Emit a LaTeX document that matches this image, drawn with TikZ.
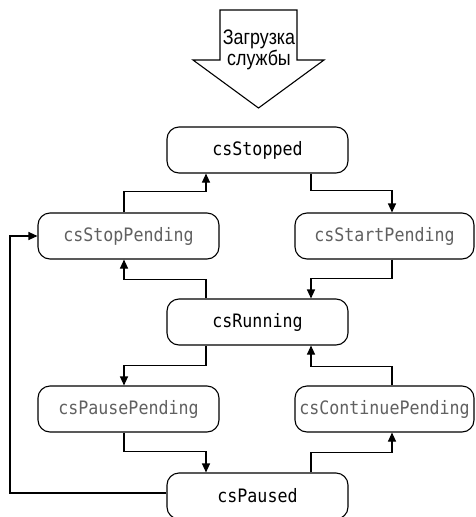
\documentclass[tikz,border=0pt]{standalone}
\usepackage{fontspec}
\setmainfont{Liberation Sans}
\newfontfamily\rufont[FakeStretch=0.85]{Liberation Sans}
\newfontfamily\statefont[FakeStretch=0.9]{DejaVu Sans Mono}
\usetikzlibrary{arrows.meta,calc}
\begin{document}
\begin{tikzpicture}[x=1pt,y=-1pt,
  stbox/.style={draw, line width=1.1pt, rounded corners=12pt, minimum width=181pt, minimum height=46pt, inner sep=0pt,
    font=\statefont\fontsize{18.5}{20}\selectfont},
  mainst/.style={stbox, text=black},
  pendst/.style={stbox, text=black!62},
  arr/.style={line width=1.1pt, -{Triangle[length=9pt,width=8pt]}},
  conn/.style={line width=1.1pt}]
\clip (0,0) rectangle (475,517);
\fill[white] (0,0) rectangle (475,517);
% big entry arrow
\draw[line width=1.1pt, line join=miter] (220,10) -- (297,10) -- (297,60) -- (324,60) -- (258.5,108) -- (193,60) -- (220,60) -- cycle;
\node[font=\rufont\fontsize{21}{21}\selectfont, align=center, inner sep=0pt] (load) at (259,50) {Загрузка\\службы};
% states
\node[mainst] (ss) at (257.5,150) {csStopped};
\node[pendst] (sp) at (128.5,236) {csStopPending};
\node[pendst, minimum width=179pt] (st) at (384.5,236) {csStartPending};
\node[mainst] (rn) at (257.5,322) {csRunning};
\node[pendst] (pp) at (128.5,409) {csPausePending};
\node[pendst, minimum width=179pt] (cp) at (384.5,409) {csContinuePending};
\node[mainst] (pd) at (257.5,496) {csPaused};
% column coordinates
\coordinate (L) at (124,0);
\coordinate (ML) at (206,0);
\coordinate (MR) at (311,0);
\coordinate (R) at (392,0);
\coordinate (lft) at (10,0);
% connectors
\draw[arr] (sp.north -| L) |- ($(ss.south -| ML)+(0,18)$) -- (ss.south -| ML);
\draw[arr] (ss.south -| MR) |- ($(st.north -| R)+(0,-22)$) -- (st.north -| R);
\draw[arr] (st.south -| R) |- ($(rn.north -| MR)+(0,-20)$) -- (rn.north -| MR);
\draw[arr] (rn.north -| ML) |- ($(sp.south -| L)+(0,20)$) -- (sp.south -| L);
\draw[arr] (rn.south -| ML) |- ($(pp.north -| L)+(0,-20)$) -- (pp.north -| L);
\draw[arr] (pp.south -| L) |- ($(pd.north -| ML)+(0,-21)$) -- (pd.north -| ML);
\draw[arr] (pd.north -| MR) |- ($(cp.south -| R)+(0,20)$) -- (cp.south -| R);
\draw[arr] (cp.north -| R) |- ($(rn.south -| MR)+(0,21)$) -- (rn.south -| MR);
\draw[arr] ([yshift=3pt]pd.west) -- ([yshift=3pt]pd.west -| lft) |- (sp.west);
\end{tikzpicture}
\end{document}
